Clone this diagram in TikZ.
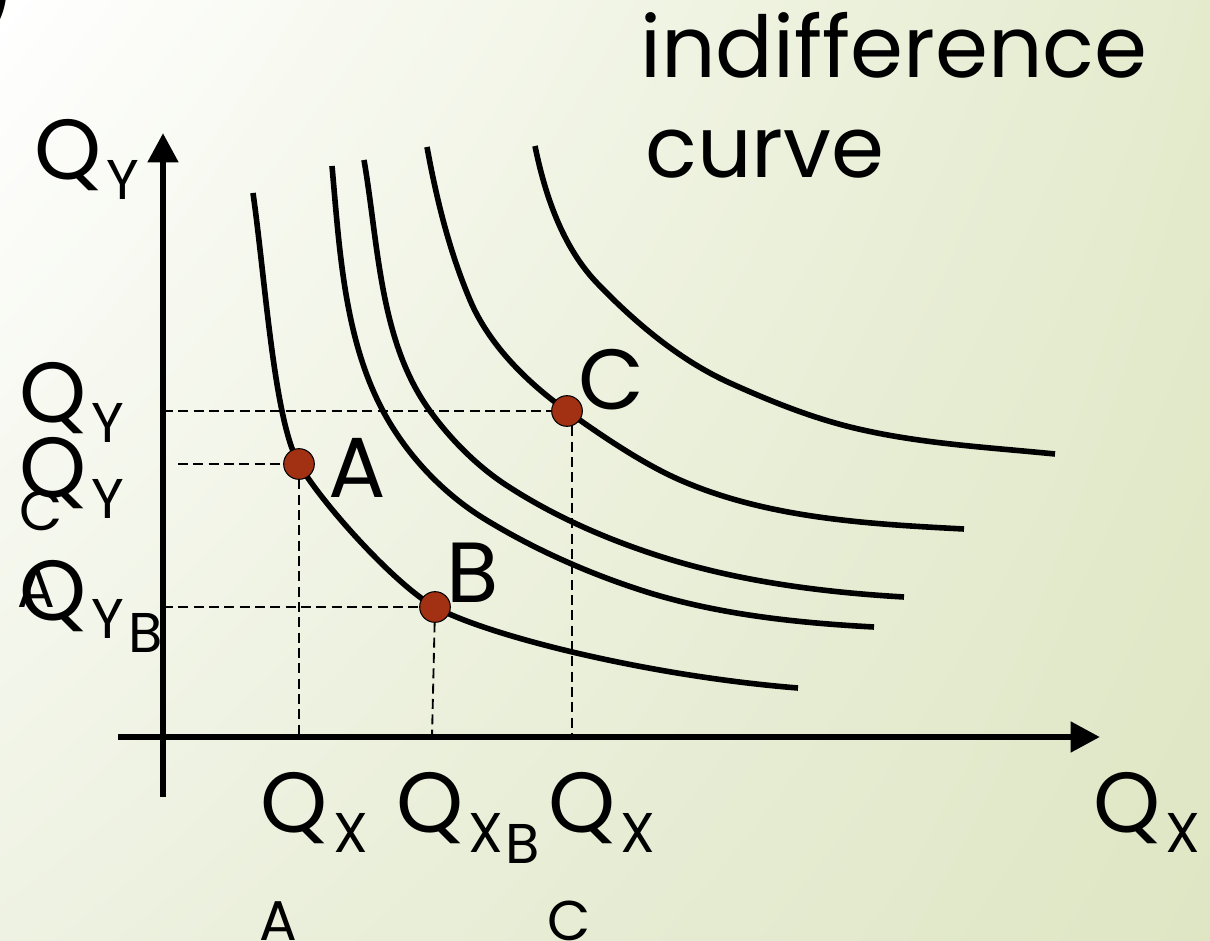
\documentclass[tikz,border=0pt]{standalone}
\usepackage{fontspec}
\setmainfont{Poppins}
\usetikzlibrary{arrows.meta,shadings}
\definecolor{bgtr}{RGB}{228,235,205}
\definecolor{bgbl}{RGB}{238,242,226}
\definecolor{bgbr}{RGB}{222,230,196}
\definecolor{dotred}{RGB}{162,48,18}
\tikzset{
  big/.style={inner sep=0pt, anchor=base west, font=\fontsize{64}{64}\selectfont},
  small/.style={inner sep=0pt, anchor=base west, font=\fontsize{42}{42}\selectfont},
  axisline/.style={line width=5pt, -{Triangle[length=22pt,width=22pt]}},
  icurve/.style={line width=4.2pt},
  guide/.style={line width=1.4pt, dash pattern=on 7.5pt off 4pt},
  dot/.style={circle, minimum size=23pt, inner sep=0pt, fill=dotred, draw=black, line width=0.8pt}
}
\begin{document}
\begin{tikzpicture}[x=0.75pt,y=-0.75pt]
\useasboundingbox (0,0) rectangle (1210,941);
\shade[upper left=white, upper right=bgtr, lower left=bgbl, lower right=bgbr] (0,0) rectangle (1210,941);

% points
\coordinate (pA) at (299,464);
\coordinate (pB) at (435,607);
\coordinate (pC) at (567,411);
\coordinate (hC) at (163,411);
\coordinate (hA) at (178,464);
\coordinate (hB) at (163,607);
\coordinate (vA) at (299,737);
\coordinate (vB) at (432,737);
\coordinate (vCt) at (572,411);
\coordinate (vC) at (572,737);

% guides
\draw[guide] (hC) -- (pC);
\draw[guide] (hA) -- (pA);
\draw[guide] (hB) -- (pB);
\draw[guide] (pA) -- (vA);
\draw[guide] (pB) -- (vB);
\draw[guide] (vCt) -- (vC);

% axes
\coordinate (yb) at (163,797);
\coordinate (yt) at (163,133);
\coordinate (xl) at (118,737);
\coordinate (xr) at (1100,737);
\draw[axisline] (yb) -- (yt);
\draw[axisline] (xl) -- (xr);

% indifference curves
\draw[icurve] (253,193) .. controls (265.6,282) and (274,420.7) .. (pA)
  .. controls (321.5,503) and (395.6,585.4) .. (pB)
  .. controls (487.6,635.8) and (648,676) .. (798,688);
\draw[icurve] (332,166) .. controls (339.5,249) and (344,338) .. (383,411)
  .. controls (406,454) and (441.4,492) .. (483,518)
  .. controls (535,550) and (592,575) .. (650,593)
  .. controls (722,615) and (799,623) .. (874,627);
\draw[icurve] (364,160) .. controls (378.6,244.7) and (379.3,341.3) .. (430,411)
  .. controls (450,438.5) and (475,464) .. (503,483)
  .. controls (548,513) and (599,536) .. (650,553)
  .. controls (731.4,580.5) and (818,592) .. (904,597);
\draw[icurve] (427,147) .. controls (436.5,199) and (449.3,251.2) .. (470,300)
  .. controls (489,345) and (527.3,382.6) .. (pC)
  .. controls (602.6,436.5) and (643.4,464) .. (680,480)
  .. controls (767.8,518.4) and (868,524) .. (964,529);
\draw[icurve] (535,146) .. controls (545,195) and (562.5,247) .. (597,283)
  .. controls (635,322.6) and (680,360.5) .. (730,383)
  .. controls (772.8,402.3) and (817,420) .. (863,430)
  .. controls (925.5,444) and (991,447.6) .. (1055,454);

% dots
\node[dot] (A) at (pA) {};
\node[dot] (B) at (pB) {};
\node[dot] (C) at (pC) {};

% point labels
\node[big] (lA) at (328,497) {A};
\node[big] (lB) at (446,602) {B};
\node[big] (lC) at (578,409) {C};

% title
\node[big] (t1) at (640,78) {indifference};
\node[big] (t2) at (645,178) {curve};
\node[big, anchor=base east] (paren) at (17,20) {)};

% axis labels
\node[big] (qy) at (34,180) {Q};
\node[small] (qys) at (106,200) {Y};
\node[big] (qx) at (1093,832) {Q};
\node[small] (qxs) at (1165,852) {X};

% left labels
\node[big] (ly1) at (19,422) {Q};
\node[small] (ly1s) at (91,442) {Y};
\node[small] (ly1c) at (19,530) {C};
\node[big] (ly2) at (19,497) {Q};
\node[small] (ly2s) at (91,518) {Y};
\node[small] (ly2a) at (17,607) {A};
\node[big] (ly3) at (19,620) {Q};
\node[small] (ly3s) at (91,638) {Y};
\node[small] (ly3b) at (128,652) {B};

% bottom labels
\node[big] (bx1) at (260,832) {Q};
\node[small] (bx1s) at (333,852) {X};
\node[small] (bx1a) at (259,940) {A};
\node[big] (bx2) at (396,832) {Q};
\node[small] (bx2s) at (468,852) {X};
\node[small] (bx2b) at (505,863) {B};
\node[big] (bx3) at (548,832) {Q};
\node[small] (bx3s) at (620,852) {X};
\node[small] (bx3c) at (547,940) {C};
\end{tikzpicture}
\end{document}
